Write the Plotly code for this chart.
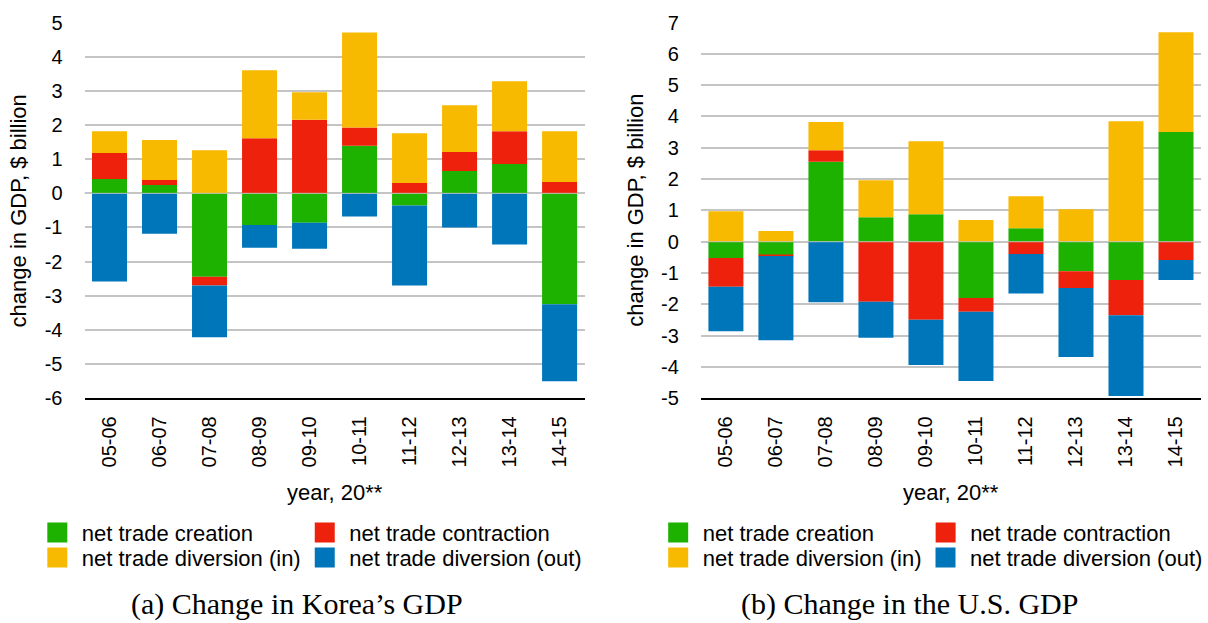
import plotly.graph_objects as go

years = ["05-06", "06-07", "07-08", "08-09", "09-10", "10-11", "11-12", "12-13", "13-14", "14-15"]

# Korea ($ billion)
kr_creation    = [0.42, 0.24, -2.44, -0.93, -0.86, 1.39, -0.36, 0.65, 0.86, -3.25]
kr_contraction = [0.76, 0.15, -0.26, 1.61, 2.15, 0.54, 0.30, 0.56, 0.96, 0.33]
kr_div_in      = [0.64, 1.17, 1.26, 1.99, 0.81, 2.78, 1.46, 1.37, 1.46, 1.49]
kr_div_out     = [-2.58, -1.18, -1.51, -0.66, -0.76, -0.68, -2.34, -1.00, -1.50, -2.25]

# U.S. ($ billion)
us_creation    = [-0.52, -0.43, 2.55, 0.78, 0.88, -1.80, 0.43, -0.94, -1.22, 3.50]
us_contraction = [-0.92, -0.03, 0.37, -1.92, -2.49, -0.44, -0.39, -0.54, -1.13, -0.58]
us_div_in      = [0.97, 0.34, 0.90, 1.18, 2.33, 0.69, 1.02, 1.04, 3.85, 3.19]
us_div_out     = [-1.42, -2.69, -1.93, -1.15, -1.45, -2.21, -1.26, -2.20, -2.58, -0.64]

series_names = ["net trade creation", "net trade contraction",
                "net trade diversion (in)", "net trade diversion (out)"]
series_colors = ["#1DB100", "#EE220C", "#F8BA00", "#0076BA"]

kr_yticks = [-6, -5, -4, -3, -2, -1, 0, 1, 2, 3, 4, 5]
kr_ytext = ["-6", "-5", "-4", "-3", "-2", "-1", "0", "1", "2", "3", "4", "5"]
us_yticks = [-5, -4, -3, -2, -1, 0, 1, 2, 3, 4, 5, 6, 7]
us_ytext = ["-5", "-4", "-3", "-2", "-1", "0", "1", "2", "3", "4", "5", "6", "7"]

W, H = 1208, 623
FONT = "Liberation Sans, Arial, sans-serif"

fig = go.Figure()

kr_data = [kr_creation, kr_contraction, kr_div_in, kr_div_out]
us_data = [us_creation, us_contraction, us_div_in, us_div_out]

for i, (name, col) in enumerate(zip(series_names, series_colors)):
    fig.add_trace(go.Bar(x=years, y=kr_data[i], name=name, marker=dict(color=col, line=dict(width=0)),
                         xaxis="x", yaxis="y", showlegend=False, legendgroup="kr%d" % i))
for i, (name, col) in enumerate(zip(series_names, series_colors)):
    fig.add_trace(go.Bar(x=years, y=us_data[i], name=name, marker=dict(color=col, line=dict(width=0)),
                         xaxis="x2", yaxis="y2", showlegend=False, legendgroup="us%d" % i))

# legend entries (square swatches), one legend box per entry
legend_ids_kr = ["legend", "legend2", "legend3", "legend4"]
legend_ids_us = ["legend5", "legend6", "legend7", "legend8"]
for i, (name, col) in enumerate(zip(series_names, series_colors)):
    fig.add_trace(go.Scatter(x=[None], y=[None], mode="markers", name=name,
                             marker=dict(symbol="square", size=16, color=col, line=dict(width=4, color=col)),
                             xaxis="x", yaxis="y", legend=legend_ids_kr[i], legendgroup="kr%d" % i))
for i, (name, col) in enumerate(zip(series_names, series_colors)):
    fig.add_trace(go.Scatter(x=[None], y=[None], mode="markers", name=name,
                             marker=dict(symbol="square", size=16, color=col, line=dict(width=4, color=col)),
                             xaxis="x2", yaxis="y2", legend=legend_ids_us[i], legendgroup="us%d" % i))

ydom = [1 - 398.3 / H, 1 - 22.5 / H]

def xaxis_cfg(dom, anchor):
    return dict(domain=dom, anchor=anchor, type="category", categoryorder="array", categoryarray=years,
                tickangle=-90, tickfont=dict(family=FONT, size=20, color="#000"),
                showgrid=False, zeroline=False, showline=True, linecolor="#000", linewidth=2,
                ticks="", ticklabelstandoff=8, automargin=False, fixedrange=True)

def yaxis_cfg(anchor, rng, tv, tt):
    return dict(domain=ydom, anchor=anchor, range=rng, tickmode="array", tickvals=tv, ticktext=tt,
                tickfont=dict(family=FONT, size=20, color="#000"), showgrid=True, gridcolor="#c4c4c4",
                gridwidth=1.5, zeroline=False, showline=False, ticks="", ticklabelstandoff=21,
                automargin=False, fixedrange=True)

leg_common = dict(orientation="h", xanchor="left", yanchor="top", font=dict(family=FONT, size=22, color="#000"),
                  itemwidth=39, bgcolor="rgba(0,0,0,0)", borderwidth=0, traceorder="normal",
                  itemclick=False, itemdoubleclick=False)

col_x_kr = [33, 302, 33, 302]
col_x_us = [657.5, 926.5, 657.5, 926.5]
row_y = [511.7, 511.7, 536.7, 536.7]

legends = {}
for i in range(4):
    legends[legend_ids_kr[i]] = dict(leg_common, x=col_x_kr[i] / W, y=1 - row_y[i] / H)
    legends[legend_ids_us[i]] = dict(leg_common, x=col_x_us[i] / W, y=1 - row_y[i] / H)

fig.update_layout(
    width=W, height=H, autosize=False,
    margin=dict(l=0, r=0, t=0, b=0),
    paper_bgcolor="white", plot_bgcolor="white",
    barmode="relative", bargap=0.3,
    font=dict(family=FONT, color="#000"),
    xaxis=xaxis_cfg([85 / W, 588 / W], "y"),
    yaxis=yaxis_cfg("x", [-6, 5], kr_yticks, kr_ytext),
    xaxis2=xaxis_cfg([705 / W, 1.0], "y2"),
    yaxis2=yaxis_cfg("x2", [-5, 7], us_yticks, us_ytext),
    **legends,
)

# thin zero reference line drawn over the bars, as in the original
fig.add_shape(type="line", xref="x domain", yref="y", x0=0, x1=1, y0=0, y1=0,
              line=dict(color="rgba(200,200,200,0.9)", width=1), layer="above")
fig.add_shape(type="line", xref="x2 domain", yref="y2", x0=0, x1=1, y0=0, y1=0,
              line=dict(color="rgba(200,200,200,0.9)", width=1), layer="above")

ann_font = dict(family=FONT, size=22, color="#000")
cap_font = dict(family="Liberation Serif, Times New Roman, serif", size=30, color="#000")
annotations = [
    dict(text="change in GDP, $ billion", x=19 / W, y=1 - 210.5 / H, textangle=-90, font=ann_font),
    dict(text="change in GDP, $ billion", x=639 / W, y=1 - 210.5 / H, textangle=-90, font=ann_font),
    dict(text="year, 20**", x=336.5 / W, y=1 - 492 / H, font=ann_font),
    dict(text="year, 20**", x=956.5 / W, y=1 - 492 / H, font=ann_font),
    dict(text="(a) Change in Korea’s GDP", x=299 / W, y=1 - 604 / H, font=cap_font, borderpad=0),
    dict(text="(b) Change in the U.S. GDP", x=915 / W, y=1 - 604 / H, font=cap_font, borderpad=0),
]
for a in annotations:
    a.update(xref="paper", yref="paper", xanchor="center", yanchor="middle", showarrow=False)
fig.update_layout(annotations=annotations)

fig.write_html("out.html", config={"displayModeBar": False},
               post_script="document.body.style.margin='0';document.body.style.overflow='hidden';")
